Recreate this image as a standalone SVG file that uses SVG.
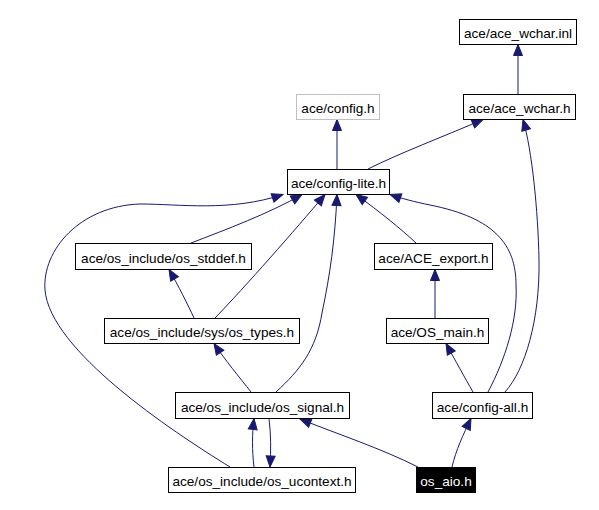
<svg xmlns="http://www.w3.org/2000/svg" width="599" height="510" viewBox="0 0 599 510">
<style>
.n rect{fill:#ffffff;stroke:#000000;stroke-width:1}
.n text{font-family:"Liberation Sans",Arial,sans-serif;font-size:13.6px;fill:#000000;text-anchor:middle}
#config_h rect{stroke:#bfbfbf}
#os_aio rect{fill:#000000}
#os_aio text{fill:#ffffff}
.e path{fill:none;stroke:#191970;stroke-width:1;marker-end:url(#arr)}
</style>
<defs>
<marker id="arr" markerUnits="userSpaceOnUse" markerWidth="12" markerHeight="11" refX="11" refY="5" orient="auto" overflow="visible">
<path d="M0,0.5 L11,5 L0,9.5 z" fill="#191970" stroke="#191970" stroke-width="1"/>
</marker>
</defs>
<rect x="0" y="0" width="599" height="510" fill="#ffffff"/>
<g class="e" id="edges">
<path d="M518,94 L518,44.5"/>
<path d="M337,169 L337,119.5"/>
<path d="M368,169 C400,153 440,138 483,119.5"/>
<path d="M505,392 C525,370 540,320 539,260 C538,210 532,150 523,119.5"/>
<path d="M488,392 C505,360 518,320 516,285 C516,245 495,218 430,205 C415,202 400,198 390,194.5"/>
<path d="M416,243 C400,228 380,212 356,194.5"/>
<path d="M435,318 L435,269.5"/>
<path d="M473,392 C465,378 455,360 446,343.5"/>
<path d="M452,467 C456,450 463,435 471,418.5"/>
<path d="M418,467 C380,448 340,435 300,419"/>
<path d="M269,418.5 C271,435 271,450 270,467"/>
<path d="M254,467 C252,450 252,435 254,418.5"/>
<path d="M251,392 C240,378 225,360 214,343.5"/>
<path d="M276,392 C300,370 316,350 322,313 C330,275 335,240 337,194.5"/>
<path d="M194,318 C188,305 178,285 169,269.5"/>
<path d="M215,318 C245,287 295,230 325,194.5"/>
<path d="M191,243 C225,230 270,213 302,194.5"/>
<path d="M230,467 C170,430 50,350 45,290 C42,250 80,206 140,204 C180,204 230,212 283,194.5"/>
</g>
<g class="n" id="wchar_inl"><rect x="459.5" y="19.5" width="117" height="25"/><text x="518" y="38">ace/ace_wchar.inl</text></g>
<g class="n" id="config_h"><rect x="296.5" y="94.5" width="83" height="25"/><text x="338" y="113">ace/config.h</text></g>
<g class="n" id="wchar_h"><rect x="463.5" y="94.5" width="112" height="25"/><text x="519.5" y="113">ace/ace_wchar.h</text></g>
<g class="n" id="config_lite"><rect x="287.5" y="169.5" width="102" height="25"/><text x="338.5" y="188">ace/config-lite.h</text></g>
<g class="n" id="os_stddef"><rect x="75.5" y="243.5" width="176" height="26"/><text x="163.5" y="262.5">ace/os_include/os_stddef.h</text></g>
<g class="n" id="ace_export"><rect x="374.5" y="243.5" width="118" height="26"/><text x="433.5" y="262.5">ace/ACE_export.h</text></g>
<g class="n" id="os_types"><rect x="104.5" y="318.5" width="195" height="25"/><text x="202" y="337">ace/os_include/sys/os_types.h</text></g>
<g class="n" id="os_main"><rect x="386.5" y="318.5" width="102" height="25"/><text x="437.5" y="337">ace/OS_main.h</text></g>
<g class="n" id="os_signal"><rect x="175.5" y="392.5" width="174" height="26"/><text x="262.5" y="411.5">ace/os_include/os_signal.h</text></g>
<g class="n" id="config_all"><rect x="432.5" y="392.5" width="100" height="26"/><text x="482.5" y="411.5">ace/config-all.h</text></g>
<g class="n" id="os_ucontext"><rect x="168.5" y="467.5" width="187" height="25"/><text x="262" y="486">ace/os_include/os_ucontext.h</text></g>
<g class="n" id="os_aio"><rect x="416.5" y="467.5" width="59" height="25"/><text x="446" y="486">os_aio.h</text></g>
</svg>
